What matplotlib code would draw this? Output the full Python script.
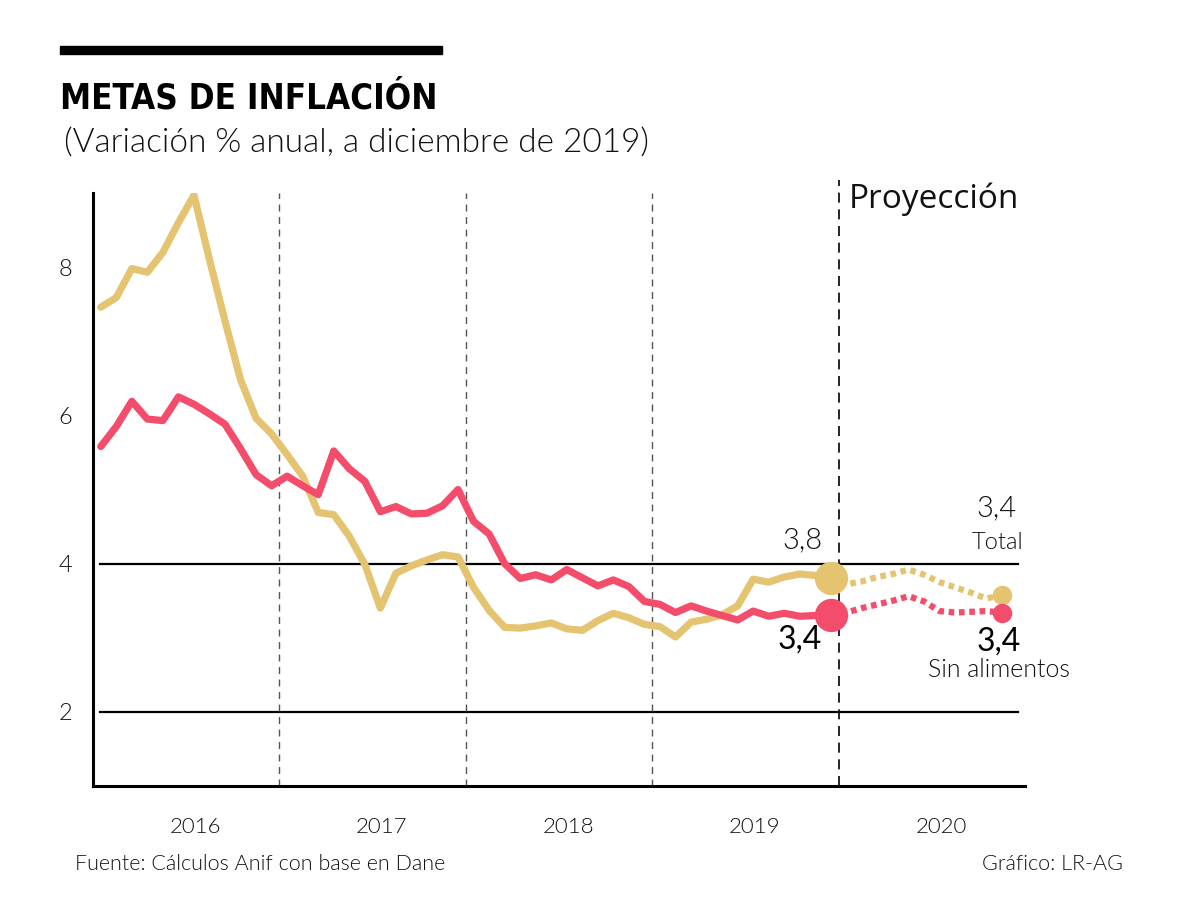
import matplotlib
matplotlib.use("Agg")
import matplotlib.pyplot as plt
from matplotlib import font_manager as fm
import numpy as np

# ---------------- data ----------------
years = ["2016", "2017", "2018", "2019", "2020"]
# Monthly annual inflation, Jan-2016 .. Dec-2019 (48 months)
total = [7.46, 7.59, 7.98, 7.93, 8.20, 8.60, 8.97, 8.10, 7.27, 6.48, 5.96, 5.75,
         5.47, 5.18, 4.69, 4.66, 4.37, 3.99, 3.40, 3.87, 3.97, 4.05, 4.12, 4.09,
         3.68, 3.37, 3.14, 3.13, 3.16, 3.20, 3.12, 3.10, 3.23, 3.33, 3.27, 3.18,
         3.15, 3.01, 3.21, 3.25, 3.31, 3.43, 3.79, 3.75, 3.82, 3.86, 3.84, 3.80]
sin_alimentos = [5.58, 5.85, 6.19, 5.95, 5.93, 6.25, 6.15, 6.02, 5.88, 5.55, 5.20, 5.05,
                 5.18, 5.05, 4.93, 5.52, 5.28, 5.11, 4.70, 4.77, 4.67, 4.68, 4.78, 5.00,
                 4.57, 4.40, 4.00, 3.80, 3.85, 3.78, 3.92, 3.81, 3.70, 3.78, 3.69, 3.49,
                 3.45, 3.34, 3.43, 3.36, 3.30, 3.24, 3.36, 3.29, 3.33, 3.29, 3.30, 3.31]
# Projection Dec-2019 .. Nov-2020
total_proj = [3.80, 3.72, 3.76, 3.82, 3.86, 3.92, 3.85, 3.75, 3.68, 3.61, 3.53, 3.57]
sin_alim_proj = [3.31, 3.34, 3.40, 3.45, 3.50, 3.56, 3.49, 3.36, 3.34, 3.35, 3.36, 3.34]
yticks = [2, 4, 6, 8]
end_labels_2019 = ["3,8", "3,4"]
end_labels_2020 = ["3,4", "3,4"]
series_names = ["Total", "Sin alimentos"]

YELLOW = "#E4C470"
RED = "#F44D6B"
INK = "#111111"
BODY = ["Lato", "DejaVu Sans"]
LIGHT = 300

W, H = 1200, 921
fig = plt.figure(figsize=(W / 100, H / 100), dpi=100)
fig.patch.set_facecolor("white")

def fx(px):
    return px / W

def fy(py):
    return 1 - py / H

ax = fig.add_axes([fx(93), fy(786), (1025 - 93) / W, (786 - 193) / H])

n = len(total)
x_hist = np.arange(n) + 0.5
x_proj = np.arange(n - 1, n - 1 + len(total_proj)) + 0.5

ax.set_xlim(0, 60)
ax.set_ylim(1, 9)

# guides
for yv in [4, 2]:
    ax.axhline(yv, xmin=0.0075, xmax=0.9925, color="black", lw=1.6, zorder=1)
for xv in [12, 24, 36]:
    ax.axvline(xv, color="#555555", lw=1.0, ls=(0, (5, 4)), zorder=1)
ax.axvline(48, ymin=0, ymax=1.022, color="black", lw=1.2, ls=(0, (6, 4)),
           zorder=1, clip_on=False)

# lines
ax.plot(x_hist, total, color=YELLOW, lw=5.2, solid_joinstyle="round",
        solid_capstyle="round", zorder=3)
ax.plot(x_hist, sin_alimentos, color=RED, lw=5.2, solid_joinstyle="round",
        solid_capstyle="round", zorder=4)
ax.plot(x_proj, total_proj, color=YELLOW, lw=4.5, ls=(0, (0.9, 0.75)),
        dash_capstyle="butt", zorder=3)
ax.plot(x_proj, sin_alim_proj, color=RED, lw=4.5, ls=(0, (0.9, 0.75)),
        dash_capstyle="butt", zorder=4)

ax.plot([x_hist[-1]], [total[-1]], "o", color=YELLOW, ms=24, mew=0, zorder=5)
ax.plot([x_hist[-1]], [sin_alimentos[-1]], "o", color=RED, ms=24, mew=0, zorder=5)
ax.plot([x_proj[-1]], [total_proj[-1]], "o", color=YELLOW, ms=14, mew=0, zorder=5)
ax.plot([x_proj[-1]], [sin_alim_proj[-1]], "o", color=RED, ms=14, mew=0, zorder=5)

# axes styling
for s in ["top", "right"]:
    ax.spines[s].set_visible(False)
ax.spines["left"].set_linewidth(2.2)
ax.spines["bottom"].set_linewidth(2.2)
ax.set_yticks(yticks)
ax.set_yticklabels([str(t) for t in yticks])
ax.tick_params(axis="y", length=0, pad=15, labelsize=17)
ax.set_xticks([6.6 + 12 * i for i in range(len(years))])
ax.set_xticklabels(years)
ax.tick_params(axis="x", length=0, pad=22, labelsize=16)
for lab in ax.get_xticklabels() + ax.get_yticklabels():
    lab.set_fontfamily(BODY)
    lab.set_fontweight(LIGHT)
    lab.set_color(INK)

# header
fig.add_artist(plt.Rectangle((fx(60), fy(54)), (442 - 60) / W, 8 / H,
                             color="black", transform=fig.transFigure))

# choose a condensed bold face if one is installed
title_family, title_stretch = ["Roboto", "DejaVu Sans"], "normal"
for fam, st in [("Liberation Sans Narrow", "normal"), ("DejaVu Sans", "condensed"),
                ("Roboto Condensed", "normal")]:
    try:
        path = fm.findfont(fm.FontProperties(family=fam, weight="bold", stretch=st),
                           fallback_to_default=False)
        if any(k in path.lower() for k in ["narrow", "condensed"]):
            title_family, title_stretch = [fam, "DejaVu Sans"], st
            break
    except Exception:
        pass

title = fig.text(fx(60), fy(108), "METAS DE INFLACIÓN", fontsize=34, fontweight="bold",
                 family=title_family, fontstretch=title_stretch, va="baseline",
                 ha="left", color="black")
fig.canvas.draw()
tw = title.get_window_extent().width
if tw > 380:
    title.set_fontsize(34 * 378 / tw)

fig.text(fx(64), fy(143), "(Variación % anual, a diciembre de 2019)", fontsize=24,
         family=BODY, fontweight=LIGHT, va="center", ha="left", color=INK)

# annotations
fig.text(fx(849), fy(199), "Proyección", fontsize=24, family=["Open Sans"],
         va="center", ha="left", color=INK)
ax.text(45.7, 4.31, end_labels_2019[0], fontsize=21, family=BODY, fontweight=LIGHT,
        ha="center", va="center", color=INK)
ax.text(45.5, 2.97, end_labels_2019[1], fontsize=23, family=BODY,
        ha="center", va="center", color="black")
ax.text(58.2, 4.75, end_labels_2020[0], fontsize=21, family=BODY, fontweight=LIGHT,
        ha="center", va="center", color=INK)
ax.text(58.2, 4.29, series_names[0], fontsize=17, family=BODY, fontweight=LIGHT,
        ha="center", va="center", color=INK)
ax.text(58.3, 2.95, end_labels_2020[1], fontsize=23, family=BODY,
        ha="center", va="center", color="black")
ax.text(58.3, 2.57, series_names[1], fontsize=18, family=BODY, fontweight=LIGHT,
        ha="center", va="center", color=INK)

fig.text(fx(75), fy(864), "Fuente: Cálculos Anif con base en Dane", fontsize=15.5,
         family=BODY, fontweight=LIGHT, va="center", ha="left", color=INK)
fig.text(fx(1123), fy(864), "Gráfico: LR-AG", fontsize=15.5,
         family=BODY, fontweight=LIGHT, va="center", ha="right", color=INK)

fig.savefig("out.png", dpi=100, facecolor="white")
